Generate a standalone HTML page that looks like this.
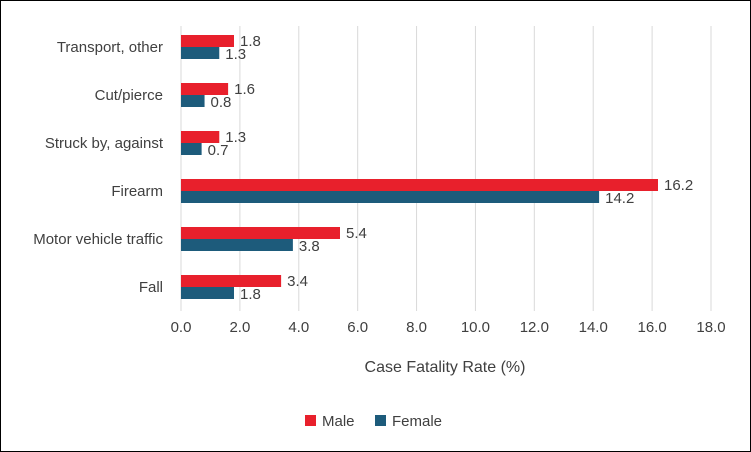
<!DOCTYPE html>
<html><head><meta charset="utf-8"><style>
body{margin:0;background:#fff}
svg{display:block;font-family:"Liberation Sans",Arial,sans-serif}
</style></head><body>
<svg id="chart" width="751" height="452">
<rect x="0.5" y="0.5" width="750" height="451" fill="#fff" stroke="#000"/>
<g id="grid"></g><g id="bars"></g><g id="labels"></g><g id="ticks"></g>
<text x="445" y="372" text-anchor="middle" font-size="16" fill="#404040">Case Fatality Rate (%)</text>
<g>
<rect x="305" y="415" width="11" height="11" fill="#E8202C"/>
<text x="322" y="426" font-size="15" fill="#404040">Male</text>
<rect x="375" y="415" width="11" height="11" fill="#1D5B7B"/>
<text x="392" y="426" font-size="15" fill="#404040">Female</text>
</g>
</svg>
<script>
const categories=["Transport, other","Cut/pierce","Struck by, against","Firearm","Motor vehicle traffic","Fall"];
const male=[1.8,1.6,1.3,16.2,5.4,3.4];
const female=[1.3,0.8,0.7,14.2,3.8,1.8];
const ticks=[0,2,4,6,8,10,12,14,16,18];
const NS="http://www.w3.org/2000/svg";
const x0=181,x1=711,plotTop=23,step=48,bh=12;
const xs=v=>x0+(v/18)*(x1-x0);
function mk(t,a,p){const e=document.createElementNS(NS,t);for(const k in a)e.setAttribute(k,a[k]);document.getElementById(p).appendChild(e);return e;}
ticks.forEach(t=>{
 const l=mk("line",{x1:xs(t),x2:xs(t),y1:plotTop+3,y2:plotTop+step*6,stroke:"#D9D9D9"},"grid");
 
 
 const tx=mk("text",{x:xs(t),y:332,"text-anchor":"middle","font-size":15,fill:"#404040"},"ticks");
 tx.textContent=t.toFixed(1);
 
 
});
categories.forEach((c,i)=>{
 const cy=plotTop+step*i+step/2;
 const lb=mk("text",{x:163,y:cy+5,"text-anchor":"end","font-size":15,fill:"#404040"},"ticks");
 lb.textContent=c;
 
 
 const bm=mk("rect",{x:x0,y:cy-bh,width:xs(male[i])-x0,height:bh,fill:"#E8202C"},"bars");
 
 
 const bf=mk("rect",{x:x0,y:cy,width:xs(female[i])-x0,height:bh,fill:"#1D5B7B"},"bars");
 
 
 const tm=mk("text",{x:xs(male[i])+6,y:cy-1,"font-size":15,fill:"#404040"},"labels");
 tm.textContent=male[i].toFixed(1);
 
 
 const tf=mk("text",{x:xs(female[i])+6,y:cy+12,"font-size":15,fill:"#404040"},"labels");
 tf.textContent=female[i].toFixed(1);
 
 
});
</script>
</body></html>
